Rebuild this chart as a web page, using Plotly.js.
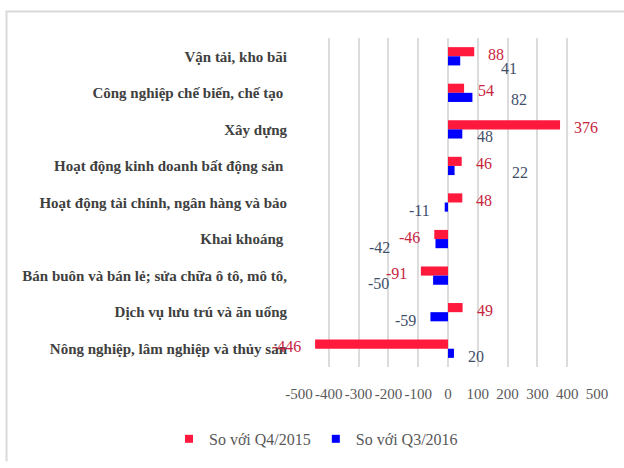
<!DOCTYPE html>
<html>
<head>
<meta charset="utf-8">
<script src="https://cdn.plot.ly/plotly-3.0.1.min.js"></script>
<style>html,body{margin:0;padding:0;background:#fff;}#chart{width:624px;height:468px;}</style>
</head>
<body>
<div id="chart"></div>
<script>
// ---- data ----
const categories = [
  "Vận tải, kho bãi",
  "Công nghiệp chế biến, chế tạo ",
  "Xây dựng",
  "Hoạt động kinh doanh bất động sản ",
  "Hoạt động tài chính, ngân hàng và bảo",
  "Khai khoáng ",
  "Bán buôn và bán lẻ; sửa chữa ô tô, mô tô,",
  "Dịch vụ lưu trú và ăn uống",
  "Nông nghiệp, lâm nghiệp và thủy sản"
];
const vsQ4_2015 = [88, 54, 376, 46, 48, -46, -91, 49, -446];
const vsQ3_2016 = [41, 82, 48, 22, -11, -42, -50, -59, 20];
const seriesNames = ["So với Q4/2015", "So với Q3/2016"];
const xTicks = [-500, -400, -300, -200, -100, 0, 100, 200, 300, 400, 500];

// label nudges (px), as placed in the original
const redLabelGap = [12, 12, 12, 12, 12, 12, 12, 12, 12];
const blueLabelGap = [39, 37, 13, 55, 13, 43, 42, 12, 12];
const blueLabelDy = [-12, -7, -7, -7, -8, -8, -8, -8, -8];

const RED = "#ff1a3d", BLUE = "#0000ff";
const RED_TXT = "#c7253e", BLUE_TXT = "#3f4f6b";
const SERIF = "Liberation Serif, Times New Roman, serif";

const traces = [
  {type: "bar", orientation: "h", name: seriesNames[0], y: categories, x: vsQ4_2015,
   marker: {color: RED}, showlegend: false, hoverinfo: "x"},
  {type: "bar", orientation: "h", name: seriesNames[1], y: categories, x: vsQ3_2016,
   marker: {color: BLUE}, showlegend: false, hoverinfo: "x"},
  {type: "scatter", mode: "markers", name: seriesNames[0], x: [null], y: [null],
   marker: {symbol: "square", size: 8, color: RED}},
  {type: "scatter", mode: "markers", name: seriesNames[1], x: [null], y: [null],
   marker: {symbol: "square", size: 8, color: BLUE}}
];

const annotations = [];
categories.forEach((c, i) => {
  const r = vsQ4_2015[i];
  annotations.push({x: r, y: c, xref: "x", yref: "y", text: String(r), showarrow: false,
    xanchor: r >= 0 ? "left" : "right", xshift: r >= 0 ? redLabelGap[i] : -redLabelGap[i],
    yshift: 2, font: {family: SERIF, size: 16, color: RED_TXT}});
  const b = vsQ3_2016[i];
  annotations.push({x: b, y: c, xref: "x", yref: "y", text: String(b), showarrow: false,
    xanchor: b >= 0 ? "left" : "right", xshift: b >= 0 ? blueLabelGap[i] : -blueLabelGap[i],
    yshift: blueLabelDy[i], font: {family: SERIF, size: 16, color: BLUE_TXT}});
});

// outer chart border (pixel -> paper)
const L = 299, R = 597, T = 38, B = 372;
const px = v => (v - L) / (R - L), py = v => (B - v) / (B - T);
const shapes = [{
  type: "path", xref: "paper", yref: "paper",
  path: `M${px(6.5)},${py(468)} L${px(6.5)},${py(11)} L${px(624)},${py(11)}`,
  line: {color: "#d9d9d9", width: 2}
}];

const layout = {
  width: 624, height: 468,
  margin: {l: L, r: 624 - R, t: T, b: 468 - B},
  paper_bgcolor: "#fff", plot_bgcolor: "#fff",
  barmode: "group", bargap: 0.5, bargroupgap: 0,
  font: {family: SERIF, color: "#595959"},
  xaxis: {range: [-500, 500], tickvals: xTicks, ticktext: xTicks.map(String),
    showgrid: true, gridcolor: "#dcdcdc", gridwidth: 2, zeroline: false,
    showline: false, ticks: "", ticklabelstandoff: 16,
    tickfont: {family: SERIF, size: 15, color: "#595959"}, fixedrange: true},
  yaxis: {type: "category", autorange: false, range: [8.5, -0.5], showgrid: false,
    zeroline: false, showline: false, ticks: "", ticklabelstandoff: 11,
    tickfont: {family: SERIF, size: 15, color: "#404040", weight: "bold"}},
  legend: {orientation: "h", x: px(316), xanchor: "center", y: py(445), yanchor: "middle",
    font: {family: SERIF, size: 16, color: "#595959"}, itemwidth: 30,
    bgcolor: "rgba(0,0,0,0)"},
  annotations: annotations,
  shapes: shapes,
  showlegend: true
};

Plotly.newPlot("chart", traces, layout, {displayModeBar: false, staticPlot: true});
</script>
</body>
</html>
